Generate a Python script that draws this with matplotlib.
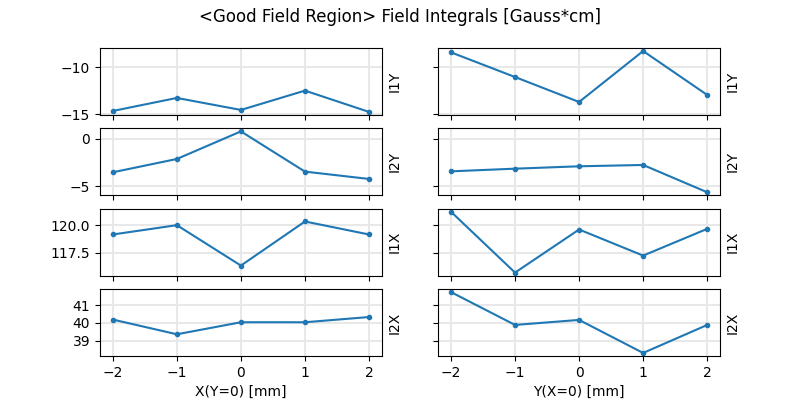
import numpy as np
import matplotlib
matplotlib.use('Agg')
import matplotlib.pyplot as plt

pos = [-2, -1, 0, 1, 2]
labels = ['I1Y', 'I2Y', 'I1X', 'I2X']

# scans along X (Y=0)
i1y_x = [-14.65, -13.26, -14.54, -12.48, -14.75]
i2y_x = [-3.53, -2.13, 0.77, -3.46, -4.23]
i1x_x = [119.17, 120.03, 116.30, 120.37, 119.17]
i2x_x = [40.19, 39.37, 40.04, 40.04, 40.33]

# scans along Y (X=0)
i1y_y = [-8.40, -11.03, -13.69, -8.26, -12.94]
i2y_y = [-3.43, -3.15, -2.90, -2.76, -5.63]
i1x_y = [121.27, 115.65, 119.63, 117.22, 119.69]
i2x_y = [41.72, 39.89, 40.17, 38.33, 39.89]

data_x = [i1y_x, i2y_x, i1x_x, i2x_x]
data_y = [i1y_y, i2y_y, i1x_y, i2x_y]

fig, axes = plt.subplots(4, 2, figsize=(8, 4), dpi=100, sharex=True, sharey='row')
fig.suptitle('<Good Field Region> Field Integrals [Gauss*cm]')

for row in range(4):
    for col, d in enumerate([data_x[row], data_y[row]]):
        ax = axes[row, col]
        ax.plot(pos, d, '.-')
        ax.grid(True, color='#e8e8e8', linewidth=1.5)
        ax.set_ylabel(labels[row])
        ax.yaxis.set_label_position('right')

axes[3, 0].set_xlabel('X(Y=0) [mm]')
axes[3, 1].set_xlabel('Y(X=0) [mm]')
axes[3, 0].set_xticks(pos)

fig.savefig('out.png')
